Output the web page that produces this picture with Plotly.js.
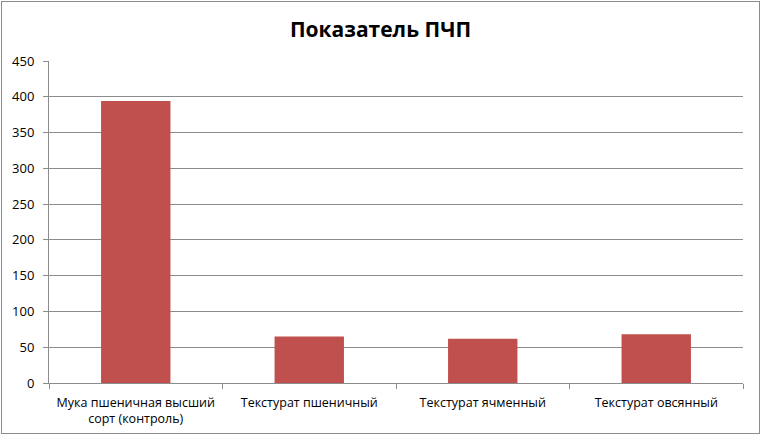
<!DOCTYPE html>
<html>
<head>
<meta charset="utf-8">
<script src="https://cdn.plot.ly/plotly-3.0.1.min.js"></script>
<style>
  html, body { margin: 0; padding: 0; background: #fff; }
  #chart { width: 757px; height: 431px; border: 1px solid #8c8c8c; margin: 1px; }
</style>
</head>
<body>
<div id="chart"></div>
<script>
// Показатель ПЧП по образцам
const categories = [
  'Мука пшеничная высший<br>сорт (контроль)',
  'Текстурат пшеничный',
  'Текстурат ячменный',
  'Текстурат овсянный'
];
const values = [394, 65, 62, 68];
const yTicks = [0, 50, 100, 150, 200, 250, 300, 350, 400, 450];

const bars = {
  type: 'bar',
  x: categories,
  y: values,
  marker: { color: '#c0504d' },
  hoverinfo: 'x+y'
};

const layout = {
  width: 757,
  height: 431,
  margin: { l: 47, r: 16, t: 59, b: 50 },
  paper_bgcolor: '#ffffff',
  plot_bgcolor: '#ffffff',
  font: { family: 'Open Sans, sans-serif', color: '#000', size: 13 },
  title: {
    text: '<b>Показатель ПЧП</b>',
    font: { family: 'Open Sans, sans-serif', size: 21, color: '#000' },
    x: 0.5,
    xanchor: 'center',
    y: 0.935,
    yanchor: 'middle'
  },
  bargap: 0.6,
  showlegend: false,
  xaxis: {
    type: 'category',
    showline: true,
    linecolor: '#8c8c8c',
    linewidth: 1,
    ticks: 'outside',
    tickson: 'boundaries',
    ticklen: 5,
    tickcolor: '#8c8c8c',
    showgrid: false,
    tickangle: 0,
    ticklabelstandoff: 8,
    tickfont: { size: 12.5 }
  },
  yaxis: {
    range: [0, 450],
    tickvals: yTicks,
    showline: true,
    linecolor: '#8c8c8c',
    ticks: 'outside',
    ticklen: 5,
    tickcolor: '#8c8c8c',
    gridcolor: '#8c8c8c',
    gridwidth: 1,
    zeroline: false,
    ticklabelstandoff: 6,
    tickfont: { size: 13 }
  }
};

Plotly.newPlot('chart', [bars], layout, { displayModeBar: false, staticPlot: true });
</script>
</body>
</html>
